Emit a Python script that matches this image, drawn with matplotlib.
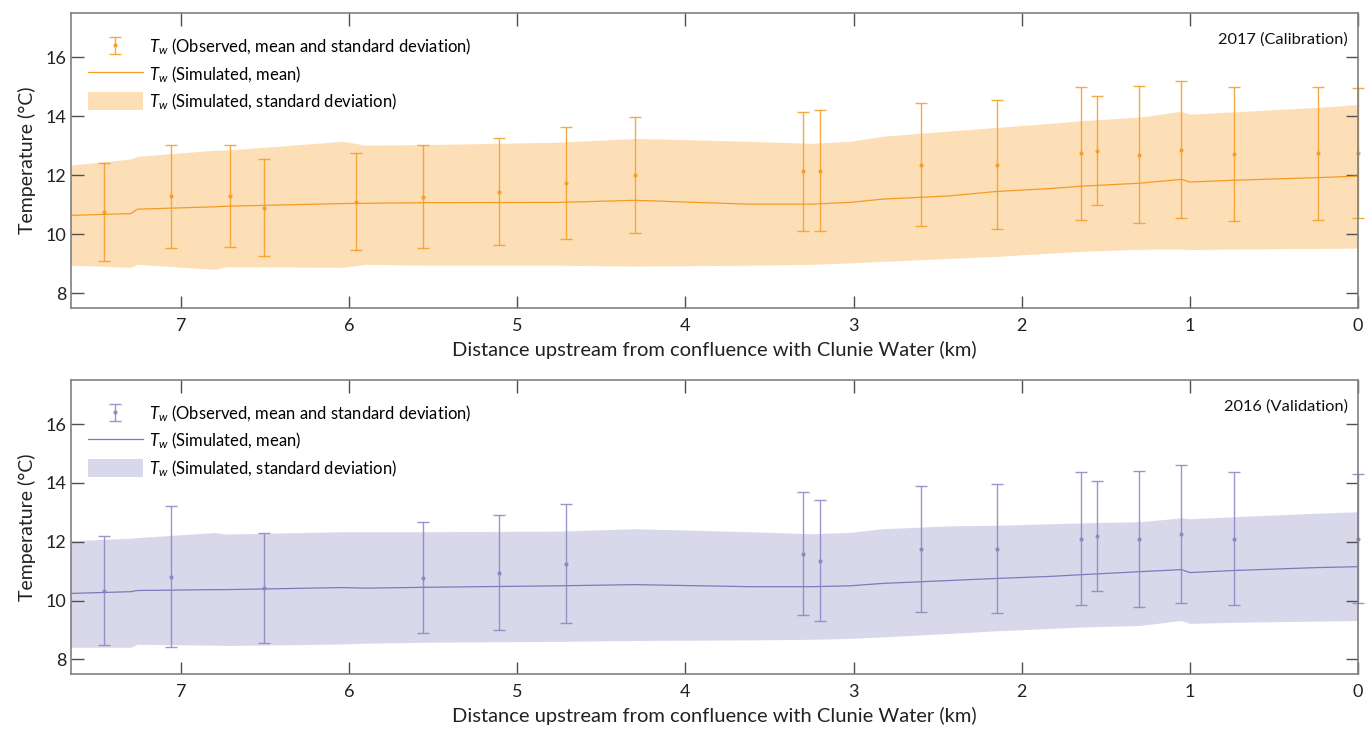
import numpy as np
import matplotlib
matplotlib.use("Agg")
import matplotlib.pyplot as plt

plt.rcParams['font.family'] = ['Lato', 'DejaVu Sans']
plt.rcParams['mathtext.fontset'] = 'custom'
plt.rcParams['mathtext.it'] = 'Lato:italic'
plt.rcParams['mathtext.rm'] = 'Lato'

# observed sites (km upstream of confluence)
dist_2017 = [7.46, 7.06, 6.71, 6.51, 5.96, 5.56, 5.11, 4.71, 4.30, 3.30,
             3.20, 2.60, 2.15, 1.65, 1.55, 1.30, 1.05, 0.74, 0.24, 0.0]
obs_mean_2017 = [10.75, 11.28, 11.30, 10.90, 11.10, 11.27, 11.44, 11.73, 12.00, 12.13,
                 12.15, 12.36, 12.36, 12.75, 12.83, 12.70, 12.87, 12.72, 12.75, 12.75]
obs_sd_2017 = [1.66, 1.75, 1.73, 1.64, 1.65, 1.74, 1.81, 1.90, 1.97, 2.02,
               2.05, 2.09, 2.19, 2.25, 1.85, 2.32, 2.33, 2.28, 2.25, 2.20]

dist_2016 = [7.46, 7.06, 6.51, 5.56, 5.11, 4.71, 3.30, 3.20, 2.60, 2.15,
             1.65, 1.55, 1.30, 1.05, 0.74, 0.0]
obs_mean_2016 = [10.34, 10.81, 10.44, 10.78, 10.95, 11.25, 11.59, 11.36, 11.76, 11.76,
                 12.10, 12.20, 12.10, 12.27, 12.10, 12.10]
obs_sd_2016 = [1.87, 2.40, 1.87, 1.90, 1.97, 2.02, 2.10, 2.05, 2.14, 2.19,
               2.26, 1.87, 2.31, 2.34, 2.27, 2.19]

# simulated profile
sim_dist = [7.66, 7.30, 7.26, 6.80, 6.73, 6.04, 5.90, 5.54, 4.75, 4.30, 3.62, 3.25,
            3.02, 2.83, 2.43, 2.15, 1.83, 1.64, 1.30, 1.05, 1.00, 0.74, 0.24, 0.0]
sim_mean_2017 = [10.64, 10.70, 10.85, 10.93, 10.95, 11.04, 11.05, 11.07, 11.08, 11.15, 11.02, 11.02,
                 11.08, 11.19, 11.30, 11.45, 11.55, 11.63, 11.73, 11.86, 11.77, 11.83, 11.92, 11.97]
sim_upper_2017 = [12.34, 12.55, 12.64, 12.85, 12.85, 13.15, 13.02, 13.04, 13.12, 13.25, 13.15, 13.08,
                  13.15, 13.32, 13.50, 13.62, 13.76, 13.85, 13.97, 14.17, 14.07, 14.15, 14.30, 14.40]
sim_lower_2017 = [8.95, 8.88, 8.98, 8.81, 8.90, 8.88, 8.98, 8.95, 8.95, 8.92, 8.95, 8.98,
                  9.03, 9.08, 9.18, 9.25, 9.36, 9.42, 9.49, 9.50, 9.48, 9.50, 9.52, 9.53]
sim_mean_2016 = [10.24, 10.30, 10.34, 10.37, 10.37, 10.44, 10.42, 10.45, 10.50, 10.54, 10.47, 10.47,
                 10.50, 10.58, 10.68, 10.75, 10.82, 10.88, 10.98, 11.05, 10.95, 11.02, 11.12, 11.15]
sim_upper_2016 = [12.03, 12.12, 12.14, 12.31, 12.26, 12.34, 12.34, 12.34, 12.36, 12.44, 12.34, 12.27,
                  12.32, 12.44, 12.54, 12.56, 12.61, 12.64, 12.68, 12.81, 12.78, 12.85, 12.97, 13.02]
sim_lower_2016 = [8.41, 8.41, 8.51, 8.48, 8.47, 8.52, 8.55, 8.58, 8.61, 8.64, 8.66, 8.68,
                  8.71, 8.76, 8.88, 8.97, 9.05, 9.10, 9.15, 9.32, 9.22, 9.26, 9.30, 9.32]

xticks = [7, 6, 5, 4, 3, 2, 1, 0]
yticks = [8, 10, 12, 14, 16]


def plotPanel(ax, dist, obs_mean, obs_sd, sim_mean, sim_upper, sim_lower,
              line_col, fill_col, err_col, title):
    """
    One panel: simulated band + mean line, observed mean +- sd
    """
    ax.fill_between(sim_dist, sim_lower, sim_upper, color=fill_col, lw=0,
                    label=r'$T_w$ (Simulated, standard deviation)')
    ax.plot(sim_dist, sim_mean, color=line_col, lw=0.9,
            label=r'$T_w$ (Simulated, mean)')
    eb = ax.errorbar(dist, obs_mean, yerr=obs_sd, fmt='o', ms=2, color=err_col,
                     ecolor=err_col, elinewidth=1, capsize=4, capthick=1, alpha=0.85,
                     label=r'$T_w$ (Observed, mean and standard deviation)')
    for a in eb.lines[1] + eb.lines[2]:
        a.set_clip_on(False)
    eb.lines[0].set_clip_on(False)

    ax.set_xlim(7.655, 0)
    ax.set_ylim(7.5, 17.5)
    ax.set_xticks(xticks)
    ax.set_yticks(yticks)
    ax.tick_params(direction='in', length=9, width=1, color='#505050',
                   top=True, right=True, labelsize=13, labelcolor='#222222')
    ax.tick_params(axis='x', pad=7)
    for s in ax.spines.values():
        s.set_color('#808080')
        s.set_linewidth(1.2)
    ax.set_xlabel('Distance upstream from confluence with Clunie Water (km)',
                  fontsize=14.5, color='#222222', labelpad=5)
    ax.set_ylabel('Temperature (°C)', fontsize=14, color='#222222', labelpad=7)
    ax.text(0.992, 0.885, title, transform=ax.transAxes, ha='right', va='bottom',
            fontsize=11.8, color='#111111')

    h, l = ax.get_legend_handles_labels()
    order = [2, 1, 0]
    ax.legend([h[i] for i in order], [l[i] for i in order], loc='upper left',
              bbox_to_anchor=(0.0, 0.975), frameon=False, fontsize=12,
              handlelength=3.3, handleheight=1.3, labelspacing=0.4,
              handletextpad=0.4, borderaxespad=0.6)


fig = plt.figure(figsize=(13.65, 7.33), dpi=100)
ax1 = fig.add_axes([71 / 1365, 1 - 308 / 733, 1287 / 1365, 295 / 733])
ax2 = fig.add_axes([71 / 1365, 1 - 674 / 733, 1287 / 1365, 294 / 733])

plotPanel(ax1, dist_2017, obs_mean_2017, obs_sd_2017, sim_mean_2017, sim_upper_2017,
          sim_lower_2017, '#f59b25', '#fddfb7', '#f59b25', '2017 (Calibration)')
plotPanel(ax2, dist_2016, obs_mean_2016, obs_sd_2016, sim_mean_2016, sim_upper_2016,
          sim_lower_2016, '#7f78bb', '#d9d8eb', '#8a84c2', '2016 (Validation)')

fig.savefig('out.png', dpi=100)
